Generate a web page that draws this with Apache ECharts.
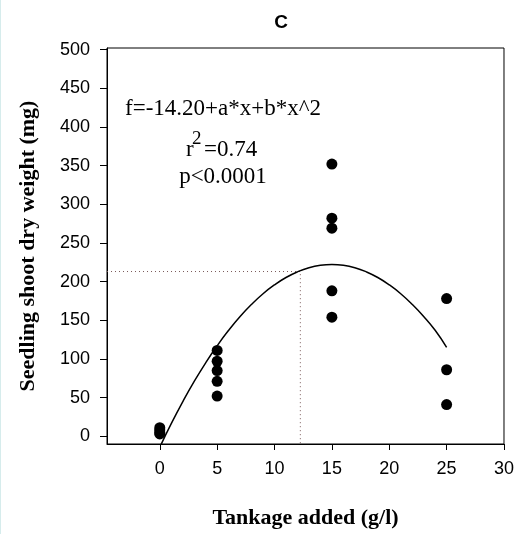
<!DOCTYPE html>
<html>
<head>
<meta charset="utf-8">
<script src="https://cdn.jsdelivr.net/npm/echarts@6/dist/echarts.min.js"></script>
<style>
html,body{margin:0;padding:0;background:#fff;}
#chart{width:517px;height:534px;}
</style>
</head>
<body>
<div id="chart"></div>
<script>
// Tick labels
const xTicks = [0, 5, 10, 15, 20, 25, 30];
const yTicks = [0, 50, 100, 150, 200, 250, 300, 350, 400, 450, 500];

// Observed points (tankage g/l, shoot dry weight mg)
const pts0  = [[0, 3], [0, 5], [0, 8], [0, 11]];
const pts5  = [[5, 111], [5, 97], [5, 85], [5, 71], [5, 52]];
const pts15 = [[15, 352], [15, 282], [15, 269], [15, 188], [15, 154]];
const pts25 = [[25, 178], [25, 86], [25, 41]];

// Fitted curve
const curveX = [0,1,2,3,4,5,6,7,8,9,10,11,12,13,14,15,16,17,18,19,20,21,22,23,24,25];
const curveY = [-14.2,16.3,44.6,70.9,95,117,137,154.9,170.6,184.3,195.8,205.3,212.6,217.9,221,222,221,217.9,212.6,205.3,195.8,184.3,170.6,154.9,137,115];

// Dotted guide lines (x at f=213)
const guideLine = [[-4.6, 213], [12.25, 213], [12.25, -10]];

const scatter = pts0.concat(pts5, pts15, pts25);
const curve = curveX.map((x, i) => [x, curveY[i]]);

const serif = '23px "Liberation Serif"';
const chart = echarts.init(document.getElementById('chart'), null, {renderer: 'canvas'});
chart.setOption({
  animation: false,
  backgroundColor: '#ffffff',
  title: {
    text: 'C',
    left: 276, top: 8, textAlign: 'center',
    textStyle: {fontFamily: 'Liberation Sans', fontWeight: 'bold', fontSize: 19, color: '#000'}
  },
  grid: {left: 107, right: 10, top: 48, bottom: 86, show: true, borderColor: '#000', borderWidth: 1, backgroundColor: 'transparent'},
  xAxis: {
    type: 'value', min: -4.6, max: 30,
    name: 'Tankage added (g/l)', nameLocation: 'middle', nameGap: 63,
    nameTextStyle: {fontFamily: 'Liberation Serif', fontWeight: 'bold', fontSize: 22, color: '#000'},
    axisLine: {show: true, onZero: false, lineStyle: {color: '#000', width: 1}},
    axisTick: {show: true, inside: false, length: 6, customValues: xTicks, lineStyle: {color: '#000'}},
    axisLabel: {show: true, margin: 16, customValues: xTicks, fontFamily: 'Liberation Sans', fontSize: 18, color: '#000'},
    splitLine: {show: false}
  },
  yAxis: {
    type: 'value', min: -10, max: 502,
    name: 'Seedling shoot dry weight (mg)', nameLocation: 'middle', nameGap: 68,
    nameTextStyle: {fontFamily: 'Liberation Serif', fontWeight: 'bold', fontSize: 22, color: '#000'},
    axisLine: {show: true, onZero: false, lineStyle: {color: '#000', width: 1}},
    axisTick: {show: true, inside: false, length: 7, customValues: yTicks, lineStyle: {color: '#000'}},
    axisLabel: {show: true, margin: 17, customValues: yTicks, fontFamily: 'Liberation Sans', fontSize: 18, color: '#000'},
    splitLine: {show: false}
  },
  graphic: [
    {type: 'rect', left: 0, top: 0, shape: {width: 1, height: 534}, style: {fill: '#d6ecec'}},
    {type: 'text', x: 223, y: 97, style: {text: 'f=-14.20+a*x+b*x^2', font: serif, fill: '#000', align: 'center', verticalAlign: 'alphabetic'}},
    {type: 'text', x: 186, y: 138, style: {text: 'r', font: serif, fill: '#000', align: 'left', verticalAlign: 'alphabetic'}},
    {type: 'text', x: 192, y: 130, style: {text: '2', font: '19px "Liberation Serif"', fill: '#000', align: 'left', verticalAlign: 'alphabetic'}},
    {type: 'text', x: 204, y: 138, style: {text: '=0.74', font: serif, fill: '#000', align: 'left', verticalAlign: 'alphabetic'}},
    {type: 'text', x: 223, y: 165, style: {text: 'p<0.0001', font: serif, fill: '#000', align: 'center', verticalAlign: 'alphabetic'}}
  ],
  series: [
    {
      type: 'line', data: guideLine, symbol: 'none', silent: true, clip: true,
      lineStyle: {color: '#7a5a5a', width: 1, type: [1, 3]}
    },
    {
      type: 'line', data: curve, symbol: 'none', smooth: true, clip: true,
      lineStyle: {color: '#000', width: 1.5}
    },
    {
      type: 'scatter', data: scatter, symbol: 'circle', symbolSize: 11,
      itemStyle: {color: '#000', opacity: 1}
    }
  ]
});
</script>
</body>
</html>
